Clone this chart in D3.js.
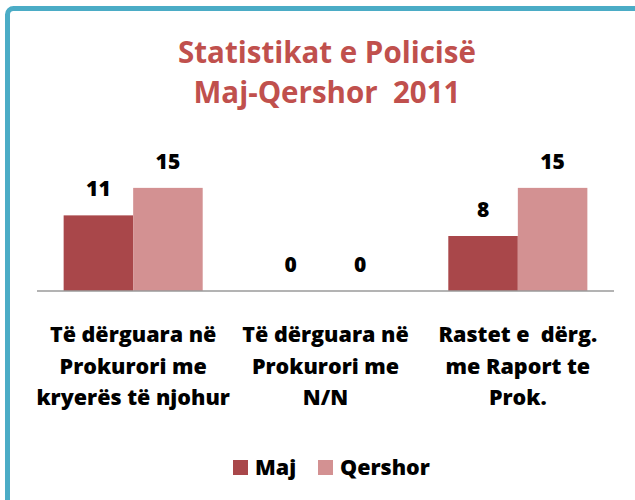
<!DOCTYPE html>
<html>
<head>
<meta charset="utf-8">
<script src="https://cdn.jsdelivr.net/npm/d3@7.9.0/dist/d3.min.js"></script>
<style>
  html, body { margin: 0; padding: 0; background: #fff; }
  svg { display: block; font-family: "Open Sans", Lato, sans-serif; font-weight: 800; }
</style>
</head>
<body>
<svg id="chart" width="635" height="500"></svg>
<script>
// chart data
const titleLines = ['Statistikat e Policisë', 'Maj-Qershor  2011'];
const categories = [
  ['Të dërguara në', 'Prokurori me', 'kryerës të njohur'],
  ['Të dërguara në', 'Prokurori me', 'N/N'],
  ['Rastet e  dërg.', 'me Raport te', 'Prok.']
];
const seriesNames = ['Maj', 'Qershor'];
const majValues = [11, 0, 8];
const qershorValues = [15, 0, 15];
const seriesColors = ['#a9474a', '#d39192'];

const svg = d3.select('#chart');

// frame (only top + left edges show in the crop)
svg.append('rect')
  .attr('x', 7.5).attr('y', 8.5)
  .attr('width', 700).attr('height', 600)
  .attr('rx', 6)
  .attr('fill', 'none')
  .attr('stroke', '#4bacc6')
  .attr('stroke-width', 5);

// title
svg.append('text')
  .attr('text-anchor', 'middle')
  .attr('fill', '#c0504d')
  .style('font-size', '29.5px')
  .style('font-weight', 'bold')
  .selectAll('tspan')
  .data(titleLines)
  .join('tspan')
  .attr('x', 327)
  .attr('y', (d, i) => 63 + i * 40)
  .style('white-space', 'pre')
  .text(d => d);

const rows = categories.map((c, i) => ({
  idx: i,
  values: [majValues[i], qershorValues[i]]
}));

const x0 = d3.scaleBand()
  .domain(d3.range(categories.length))
  .range([37, 614])
  .paddingInner(0.277)
  .paddingOuter(0.1385);

const x1 = d3.scaleBand()
  .domain(d3.range(seriesNames.length))
  .range([0, x0.bandwidth()]);

const y = d3.scaleLinear()
  .domain([0, 16])
  .range([291, 181]);

const groups = svg.append('g')
  .selectAll('g')
  .data(rows)
  .join('g')
  .attr('transform', d => `translate(${x0(d.idx)},0)`);

groups.selectAll('rect')
  .data(d => d.values)
  .join('rect')
  .attr('x', (_, i) => x1(i))
  .attr('y', d => y(d))
  .attr('width', x1.bandwidth())
  .attr('height', d => y(0) - y(d))
  .attr('fill', (_, i) => seriesColors[i]);

groups.selectAll('text')
  .data(d => d.values)
  .join('text')
  .attr('x', (_, i) => x1(i) + x1.bandwidth() / 2)
  .attr('y', d => y(d) - 19)
  .attr('text-anchor', 'middle')
  .style('font-size', '21px')
  .attr('fill', '#000')
  .text(d => d);

// baseline
svg.append('line')
  .attr('x1', 37).attr('x2', 614)
  .attr('y1', y(0)).attr('y2', y(0))
  .attr('stroke', '#9a9a9a')
  .attr('stroke-width', 1.5);

// category labels
svg.append('g')
  .selectAll('text')
  .data(categories)
  .join('text')
  .attr('text-anchor', 'middle')
  .style('font-size', '21.5px')
  .attr('fill', '#000')
  .each(function (lines, i) {
    const cx = x0(i) + x0.bandwidth() / 2;
    d3.select(this).selectAll('tspan')
      .data(lines)
      .join('tspan')
      .attr('x', cx)
      .attr('y', (_, j) => 342 + j * 31.5)
      .style('white-space', 'pre')
      .text(l => l);
  });

// legend
const legendX = [233, 318];
const legend = svg.append('g')
  .selectAll('g')
  .data(seriesNames)
  .join('g')
  .attr('transform', (_, i) => `translate(${legendX[i]},460)`);

legend.append('rect')
  .attr('width', 15).attr('height', 15)
  .attr('fill', (_, i) => seriesColors[i]);

legend.append('text')
  .attr('x', 22).attr('y', 14.5)
  .style('font-size', '21.5px')
  .attr('fill', '#000')
  .text(d => d);
</script>
</body>
</html>
